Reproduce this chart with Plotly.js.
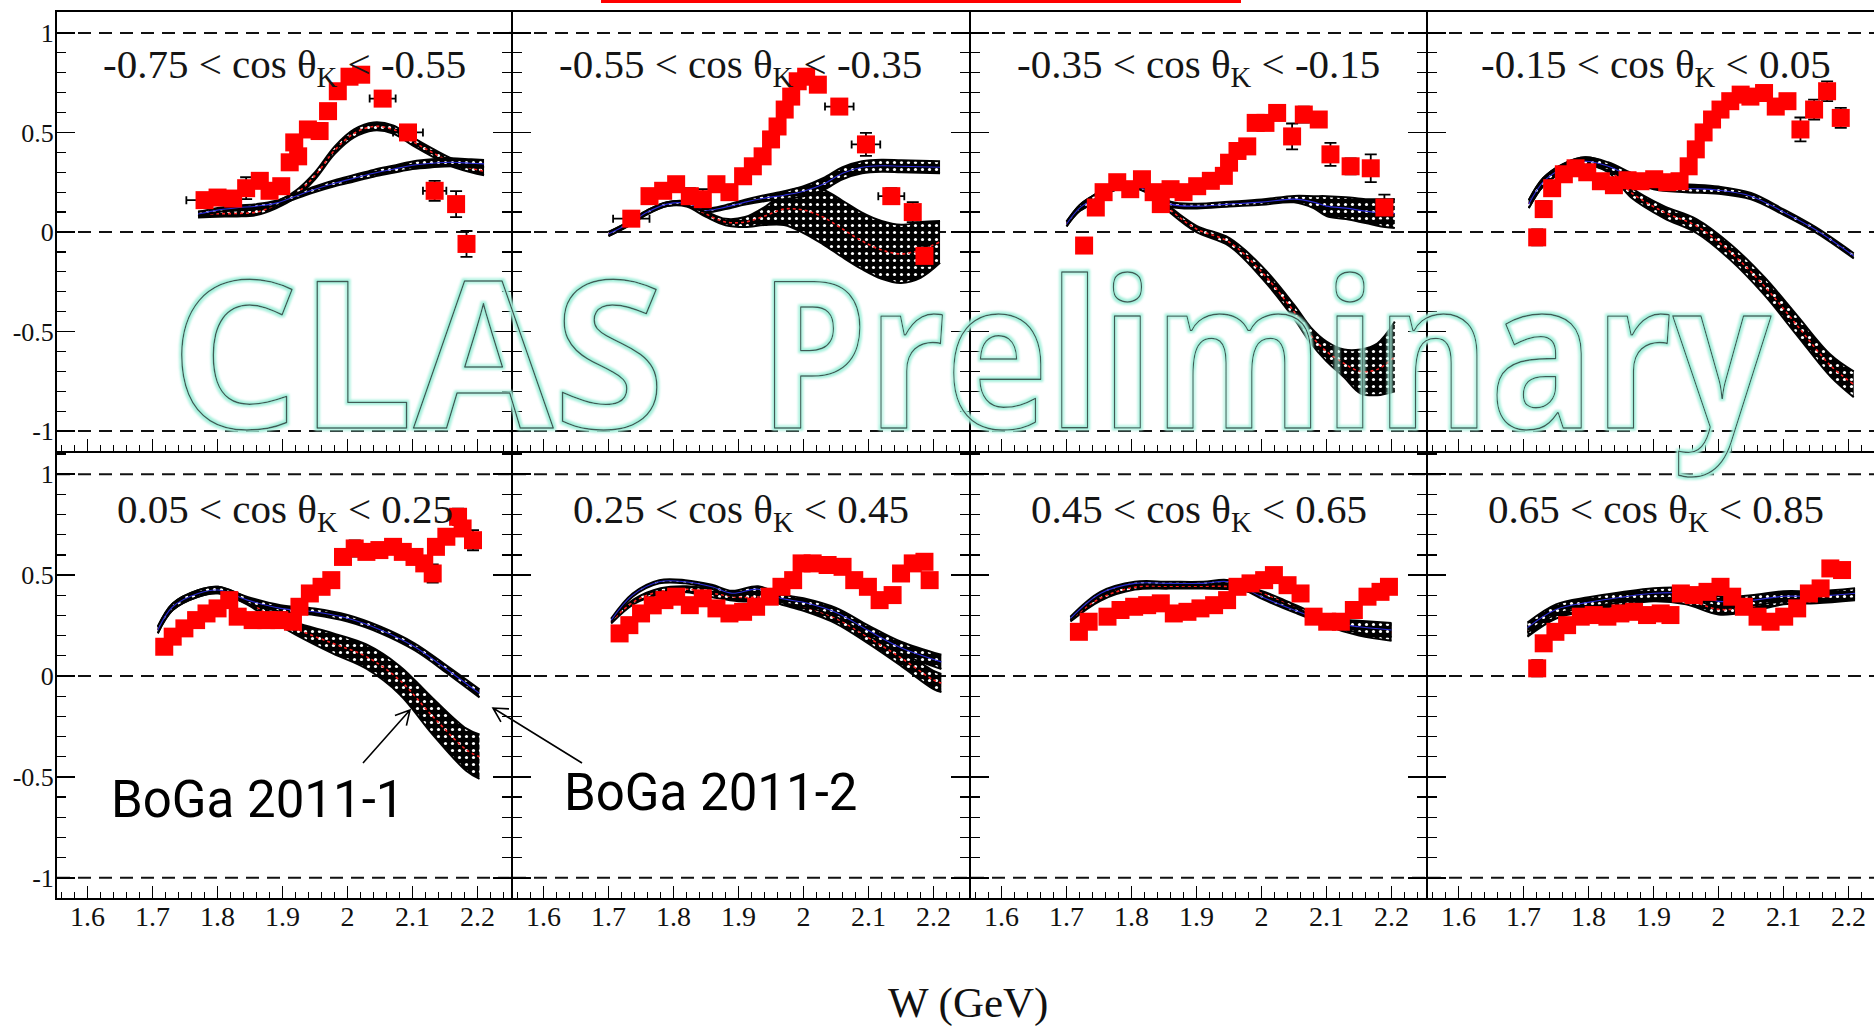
<!DOCTYPE html>
<html><head><meta charset="utf-8">
<script src="https://cdn.plot.ly/plotly-3.0.1.min.js"></script>
<style>
html,body{margin:0;padding:0;overflow:hidden;background:#fff}
#wrap{position:relative;width:1874px;height:1029px}
#plot{position:absolute;left:0;top:0;width:1874px;height:1029px}
#wm{position:absolute;left:0;top:0;pointer-events:none}
</style></head><body>
<div id="wrap"><div id="plot"></div>
<svg id="wm" width="1874" height="1029" xmlns="http://www.w3.org/2000/svg">
 <defs>
  <filter id="glow" filterUnits="userSpaceOnUse" x="0" y="0" width="1874" height="1029">
   <feMorphology in="SourceAlpha" operator="dilate" radius="2" result="d"/>
   <feFlood flood-color="#a6f0dc"/>
   <feComposite in2="d" operator="in" result="g"/>
   <feGaussianBlur in="g" stdDeviation="0.9" result="gb"/>
   <feMerge><feMergeNode in="gb"/><feMergeNode in="SourceGraphic"/></feMerge>
  </filter>
 </defs>
 <g font-family="Open Sans" font-weight="700" font-size="205" fill="none" stroke="#3f5a55" stroke-width="1.4" stroke-linejoin="round" filter="url(#glow)">
  <text id="wm1" x="0" y="0" transform="translate(170,428)">CLAS</text>
  <text id="wm2" x="0" y="0" transform="translate(759,428)">Preliminary</text>
 </g>
</svg>
</div>
<script>
// ---------- tick labels ----------
const xTickVals = [1.6, 1.7, 1.8, 1.9, 2.0, 2.1, 2.2];
const xTickText = ['1.6', '1.7', '1.8', '1.9', '2', '2.1', '2.2'];
const yTickVals = [-1, -0.5, 0, 0.5, 1];
const yTickText = ['-1', '-0.5', '0', '0.5', '1'];
const refLines = [1, 0, -1];
const panelLabels = [
  '-0.75 &lt; cos θ<sub>K</sub> &lt; -0.55',
  '-0.55 &lt; cos θ<sub>K</sub> &lt; -0.35',
  '-0.35 &lt; cos θ<sub>K</sub> &lt; -0.15',
  '-0.15 &lt; cos θ<sub>K</sub> &lt; 0.05',
  '0.05 &lt; cos θ<sub>K</sub> &lt; 0.25',
  '0.25 &lt; cos θ<sub>K</sub> &lt; 0.45',
  '0.45 &lt; cos θ<sub>K</sub> &lt; 0.65',
  '0.65 &lt; cos θ<sub>K</sub> &lt; 0.85'
];

// ---------- data points (W, asymmetry, y error, x error) ----------
const W1 = [1.780, 1.800, 1.824, 1.844, 1.865, 1.880, 1.898, 1.911, 1.918, 1.924, 1.939, 1.957, 1.970, 1.985, 2.003, 2.021, 2.054, 2.093, 2.134, 2.167, 2.183];
const A1 = [0.16, 0.173, 0.168, 0.22, 0.257, 0.207, 0.23, 0.35, 0.45, 0.38, 0.515, 0.507, 0.607, 0.707, 0.78, 0.79, 0.67, 0.50, 0.207, 0.14, -0.06];
const E1 = [0.02, 0.02, 0.02, 0.055, 0.03, 0.03, 0.03, 0.03, 0.03, 0.03, 0.03, 0.04, 0.03, 0.03, 0.03, 0.03, 0.02, 0.025, 0.05, 0.065, 0.065];
const X1 = [0.028, 0, 0, 0, 0, 0, 0, 0, 0, 0, 0, 0, 0, 0, 0, 0, 0.02, 0.023, 0.018, 0, 0];

const W2 = [1.735, 1.763, 1.784, 1.804, 1.825, 1.845, 1.866, 1.886, 1.907, 1.922, 1.937, 1.95, 1.96, 1.971, 1.981, 1.991, 2.004, 2.022, 2.055, 2.096, 2.135, 2.168, 2.186];
const A2 = [0.067, 0.18, 0.207, 0.24, 0.18, 0.165, 0.24, 0.2, 0.28, 0.33, 0.38, 0.465, 0.53, 0.615, 0.68, 0.757, 0.78, 0.74, 0.63, 0.44, 0.18, 0.1, -0.12];
const E2 = [0.03, 0.03, 0.03, 0.03, 0.04, 0.05, 0.03, 0.03, 0.03, 0.03, 0.03, 0.03, 0.03, 0.03, 0.03, 0.03, 0.03, 0.03, 0.03, 0.058, 0.04, 0.05, 0.05];
const X2 = [0.028, 0, 0, 0, 0, 0, 0, 0, 0, 0, 0, 0, 0, 0, 0, 0, 0, 0, 0.022, 0.022, 0.02, 0, 0];

const W3 = [1.727, 1.745, 1.757, 1.778, 1.798, 1.816, 1.834, 1.845, 1.86, 1.88, 1.901, 1.922, 1.942, 1.95, 1.963, 1.978, 1.991, 2.006, 2.024, 2.047, 2.065, 2.088, 2.106, 2.137, 2.168, 2.189];
const A3 = [-0.068, 0.123, 0.2, 0.25, 0.215, 0.265, 0.2, 0.14, 0.215, 0.2, 0.23, 0.257, 0.282, 0.348, 0.407, 0.43, 0.548, 0.548, 0.598, 0.48, 0.59, 0.565, 0.39, 0.33, 0.32, 0.123];
const E3 = [0.03, 0.03, 0.03, 0.03, 0.03, 0.03, 0.03, 0.03, 0.03, 0.03, 0.03, 0.03, 0.03, 0.03, 0.03, 0.03, 0.03, 0.03, 0.03, 0.065, 0.04, 0.03, 0.058, 0.04, 0.07, 0.065];

const W4 = [1.721, 1.731, 1.744, 1.762, 1.780, 1.798, 1.819, 1.839, 1.860, 1.880, 1.901, 1.921, 1.940, 1.954, 1.965, 1.977, 1.990, 2.003, 2.018, 2.034, 2.049, 2.070, 2.088, 2.106, 2.126, 2.147, 2.167, 2.188];
const A4 = [-0.027, 0.115, 0.22, 0.29, 0.32, 0.30, 0.255, 0.235, 0.26, 0.255, 0.265, 0.25, 0.255, 0.33, 0.415, 0.50, 0.565, 0.615, 0.657, 0.69, 0.68, 0.698, 0.63, 0.657, 0.515, 0.615, 0.707, 0.573];
const E4 = [0.04, 0.04, 0.03, 0.03, 0.03, 0.03, 0.03, 0.03, 0.03, 0.03, 0.03, 0.03, 0.03, 0.03, 0.03, 0.03, 0.03, 0.03, 0.03, 0.03, 0.03, 0.03, 0.03, 0.03, 0.06, 0.05, 0.05, 0.05];

const W5 = [1.718, 1.731, 1.749, 1.767, 1.783, 1.80, 1.818, 1.831, 1.854, 1.875, 1.895, 1.916, 1.926, 1.942, 1.96, 1.975, 1.993, 2.011, 2.029, 2.049, 2.07, 2.085, 2.103, 2.118, 2.131, 2.136, 2.152, 2.17, 2.177, 2.193];
const A5 = [0.145, 0.195, 0.236, 0.277, 0.31, 0.335, 0.376, 0.294, 0.277, 0.277, 0.277, 0.269, 0.343, 0.409, 0.442, 0.475, 0.59, 0.632, 0.615, 0.624, 0.64, 0.615, 0.59, 0.558, 0.508, 0.64, 0.69, 0.789, 0.731, 0.673];
const E5 = [0.03, 0.03, 0.03, 0.03, 0.03, 0.03, 0.03, 0.03, 0.03, 0.03, 0.03, 0.03, 0.03, 0.03, 0.03, 0.03, 0.03, 0.04, 0.03, 0.03, 0.03, 0.03, 0.03, 0.03, 0.045, 0.03, 0.03, 0.04, 0.03, 0.05];

const W6 = [1.717, 1.732, 1.750, 1.768, 1.786, 1.804, 1.825, 1.845, 1.866, 1.886, 1.907, 1.927, 1.948, 1.966, 1.984, 1.997, 2.014, 2.037, 2.06, 2.078, 2.099, 2.117, 2.137, 2.15, 2.168, 2.186, 2.194];
const A6 = [0.211, 0.252, 0.31, 0.35, 0.376, 0.393, 0.351, 0.385, 0.335, 0.31, 0.318, 0.343, 0.393, 0.442, 0.475, 0.558, 0.558, 0.55, 0.541, 0.475, 0.442, 0.376, 0.401, 0.508, 0.558, 0.566, 0.475];
const E6 = [0.03, 0.03, 0.03, 0.03, 0.03, 0.03, 0.03, 0.03, 0.03, 0.03, 0.03, 0.03, 0.03, 0.03, 0.03, 0.03, 0.03, 0.03, 0.03, 0.03, 0.03, 0.03, 0.03, 0.03, 0.03, 0.03, 0.03];

const W7 = [1.719, 1.734, 1.763, 1.783, 1.804, 1.824, 1.845, 1.865, 1.886, 1.906, 1.927, 1.947, 1.963, 1.983, 2.004, 2.019, 2.04, 2.06, 2.08, 2.101, 2.122, 2.142, 2.163, 2.183, 2.196];
const A7 = [0.219, 0.269, 0.294, 0.327, 0.343, 0.351, 0.36, 0.31, 0.318, 0.335, 0.351, 0.376, 0.442, 0.459, 0.475, 0.5, 0.45, 0.409, 0.294, 0.269, 0.269, 0.327, 0.393, 0.417, 0.442];
const E7 = [0.03, 0.03, 0.03, 0.03, 0.03, 0.03, 0.03, 0.03, 0.03, 0.03, 0.03, 0.03, 0.03, 0.03, 0.03, 0.03, 0.03, 0.03, 0.03, 0.03, 0.03, 0.03, 0.03, 0.03, 0.03];

const W8 = [1.721, 1.731, 1.749, 1.767, 1.788, 1.808, 1.829, 1.849, 1.87, 1.89, 1.911, 1.926, 1.942, 1.962, 1.983, 2.003, 2.021, 2.039, 2.06, 2.08, 2.101, 2.121, 2.139, 2.157, 2.172, 2.19];
const A8 = [0.038, 0.162, 0.219, 0.252, 0.294, 0.302, 0.294, 0.31, 0.318, 0.302, 0.31, 0.302, 0.409, 0.401, 0.417, 0.442, 0.393, 0.343, 0.294, 0.269, 0.294, 0.335, 0.409, 0.434, 0.533, 0.525];
const E8 = [0.04, 0.03, 0.03, 0.03, 0.03, 0.03, 0.03, 0.03, 0.03, 0.03, 0.03, 0.03, 0.03, 0.03, 0.03, 0.03, 0.03, 0.03, 0.03, 0.03, 0.03, 0.03, 0.03, 0.03, 0.03, 0.03];

// ---------- model bands: BoGa 2011-1 (red centre) and BoGa 2011-2 (blue centre) ----------
// grid W, centre value, half width
const gA1 = [1.77, 1.80, 1.83, 1.86, 1.89, 1.92, 1.95, 1.98, 2.01, 2.04, 2.07, 2.10, 2.13, 2.16, 2.19, 2.21];
const cA1 = [0.088, 0.092, 0.093, 0.10, 0.135, 0.19, 0.283, 0.41, 0.495, 0.53, 0.515, 0.455, 0.40, 0.35, 0.32, 0.305];
const hA1 = [0.015, 0.015, 0.015, 0.015, 0.016, 0.017, 0.018, 0.019, 0.02, 0.02, 0.02, 0.02, 0.02, 0.02, 0.02, 0.02];
const gB1 = [1.77, 1.80, 1.83, 1.86, 1.89, 1.92, 1.95, 1.98, 2.01, 2.04, 2.07, 2.10, 2.13, 2.16, 2.19, 2.21];
const cB1 = [0.09, 0.11, 0.122, 0.13, 0.145, 0.18, 0.215, 0.245, 0.27, 0.295, 0.315, 0.335, 0.345, 0.35, 0.345, 0.342];
const hB1 = [0.01, 0.01, 0.01, 0.01, 0.012, 0.013, 0.014, 0.015, 0.016, 0.017, 0.018, 0.019, 0.02, 0.02, 0.02, 0.02];

const gA2 = [1.70, 1.73, 1.76, 1.79, 1.82, 1.85, 1.88, 1.91, 1.94, 1.97, 2.00, 2.03, 2.06, 2.09, 2.12, 2.15, 2.18, 2.21];
const cA2 = [-0.01, 0.04, 0.10, 0.14, 0.14, 0.09, 0.05, 0.05, 0.08, 0.115, 0.11, 0.075, 0.015, -0.045, -0.09, -0.11, -0.09, -0.05];
const hA2 = [0.01, 0.01, 0.01, 0.01, 0.012, 0.014, 0.016, 0.025, 0.045, 0.08, 0.115, 0.137, 0.142, 0.142, 0.145, 0.146, 0.14, 0.105];
const gB2 = [1.70, 1.73, 1.76, 1.79, 1.82, 1.85, 1.88, 1.91, 1.94, 1.97, 2.00, 2.03, 2.06, 2.09, 2.12, 2.15, 2.18, 2.21];
const cB2 = [-0.01, 0.04, 0.10, 0.14, 0.145, 0.11, 0.125, 0.15, 0.17, 0.185, 0.205, 0.24, 0.295, 0.325, 0.333, 0.33, 0.328, 0.325];
const hB2 = [0.01, 0.01, 0.01, 0.01, 0.01, 0.01, 0.01, 0.012, 0.015, 0.02, 0.025, 0.03, 0.03, 0.03, 0.03, 0.03, 0.03, 0.03];

const gA3 = [1.70, 1.72, 1.745, 1.77, 1.80, 1.83, 1.86, 1.90, 1.95, 2.00, 2.05, 2.076, 2.10, 2.127, 2.152, 2.178, 2.205];
const cA3 = [0.04, 0.12, 0.17, 0.22, 0.235, 0.2, 0.11, 0.015, -0.05, -0.2, -0.4, -0.52, -0.6, -0.66, -0.70, -0.69, -0.625];
const hA3 = [0.012, 0.015, 0.02, 0.015, 0.012, 0.012, 0.014, 0.016, 0.02, 0.03, 0.035, 0.04, 0.05, 0.07, 0.11, 0.13, 0.175];
const gB3 = [1.70, 1.72, 1.745, 1.77, 1.80, 1.83, 1.86, 1.90, 1.95, 2.00, 2.05, 2.08, 2.10, 2.13, 2.16, 2.19, 2.205];
const cB3 = [0.04, 0.12, 0.17, 0.22, 0.235, 0.2, 0.14, 0.13, 0.14, 0.15, 0.165, 0.15, 0.13, 0.12, 0.105, 0.095, 0.093];
const hB3 = [0.012, 0.015, 0.02, 0.015, 0.012, 0.012, 0.012, 0.012, 0.012, 0.013, 0.016, 0.03, 0.05, 0.055, 0.06, 0.07, 0.073];

const gA4 = [1.708, 1.73, 1.76, 1.795, 1.83, 1.865, 1.916, 1.966, 2.018, 2.07, 2.121, 2.172, 2.208];
const cA4 = [0.14, 0.25, 0.32, 0.355, 0.32, 0.2, 0.1, 0.03, -0.1, -0.27, -0.47, -0.67, -0.765];
const hA4 = [0.02, 0.02, 0.02, 0.02, 0.02, 0.025, 0.03, 0.035, 0.04, 0.045, 0.05, 0.055, 0.065];
const gB4 = [1.708, 1.73, 1.76, 1.795, 1.83, 1.87, 1.90, 1.95, 2.00, 2.05, 2.10, 2.15, 2.208];
const cB4 = [0.14, 0.25, 0.32, 0.355, 0.33, 0.27, 0.235, 0.22, 0.21, 0.18, 0.10, 0.01, -0.12];
const hB4 = [0.02, 0.02, 0.02, 0.02, 0.02, 0.02, 0.02, 0.02, 0.018, 0.016, 0.014, 0.013, 0.013];

const gA5 = [1.708, 1.731, 1.77, 1.801, 1.846, 1.88, 1.92, 1.977, 2.029, 2.08, 2.131, 2.183, 2.203];
const cA5 = [0.228, 0.343, 0.409, 0.426, 0.37, 0.30, 0.235, 0.162, 0.096, -0.02, -0.2, -0.366, -0.40];
const hA5 = [0.016, 0.016, 0.016, 0.016, 0.016, 0.02, 0.03, 0.05, 0.06, 0.07, 0.09, 0.105, 0.11];
const gB5 = [1.708, 1.731, 1.77, 1.801, 1.846, 1.897, 1.949, 2.0, 2.051, 2.103, 2.154, 2.203];
const cB5 = [0.228, 0.343, 0.409, 0.426, 0.376, 0.335, 0.318, 0.286, 0.228, 0.145, 0.03, -0.086];
const hB5 = [0.016, 0.016, 0.016, 0.016, 0.016, 0.016, 0.016, 0.016, 0.016, 0.017, 0.018, 0.02];

const gA6 = [1.704, 1.74, 1.78, 1.82, 1.86, 1.90, 1.95, 1.97, 2.0, 2.05, 2.10, 2.15, 2.2, 2.212];
const cA6 = [0.27, 0.37, 0.42, 0.43, 0.41, 0.39, 0.39, 0.37, 0.345, 0.285, 0.19, 0.09, -0.02, -0.035];
const hA6 = [0.01, 0.012, 0.015, 0.015, 0.02, 0.02, 0.02, 0.02, 0.022, 0.025, 0.03, 0.04, 0.045, 0.045];
const gB6 = [1.704, 1.737, 1.778, 1.818, 1.859, 1.89, 1.93, 1.965, 2.0, 2.05, 2.10, 2.15, 2.212];
const cB6 = [0.277, 0.401, 0.467, 0.467, 0.442, 0.41, 0.43, 0.385, 0.365, 0.315, 0.225, 0.14, 0.07];
const hB6 = [0.008, 0.008, 0.008, 0.008, 0.01, 0.012, 0.015, 0.02, 0.02, 0.022, 0.025, 0.03, 0.035];

const gA7 = [1.706, 1.752, 1.805, 1.857, 1.91, 1.96, 2.0, 2.05, 2.10, 2.15, 2.20];
const cA7 = [0.28, 0.385, 0.44, 0.445, 0.445, 0.44, 0.41, 0.34, 0.27, 0.235, 0.215];
const hA7 = [0.01, 0.012, 0.012, 0.012, 0.012, 0.012, 0.012, 0.015, 0.02, 0.035, 0.04];
const gB7 = [1.706, 1.752, 1.805, 1.857, 1.91, 1.95, 2.0, 2.05, 2.10, 2.15, 2.20];
const cB7 = [0.286, 0.409, 0.459, 0.459, 0.459, 0.467, 0.393, 0.327, 0.27, 0.244, 0.228];
const hB7 = [0.008, 0.008, 0.008, 0.008, 0.008, 0.008, 0.01, 0.012, 0.015, 0.03, 0.035];

const gA8 = [1.706, 1.75, 1.80, 1.85, 1.90, 1.95, 2.00, 2.05, 2.10, 2.15, 2.21];
const cA8 = [0.22, 0.31, 0.35, 0.375, 0.395, 0.38, 0.33, 0.345, 0.38, 0.385, 0.40];
const hA8 = [0.025, 0.025, 0.025, 0.025, 0.025, 0.025, 0.025, 0.025, 0.025, 0.025, 0.025];
const gB8 = [1.706, 1.75, 1.80, 1.85, 1.90, 1.95, 2.00, 2.05, 2.10, 2.15, 2.21];
const cB8 = [0.24, 0.33, 0.365, 0.39, 0.41, 0.41, 0.37, 0.375, 0.395, 0.395, 0.41];
const hB8 = [0.025, 0.025, 0.025, 0.025, 0.025, 0.025, 0.025, 0.025, 0.025, 0.025, 0.025];

// ---------- watermark fit (fit each word to its box in the reference) ----------
[['wm1', 170, 495], ['wm2', 759, 1012]].forEach(([id, x, w]) => {
  const el = document.getElementById(id);
  const nat = el.getComputedTextLength() || w;
  el.setAttribute('transform', 'translate(' + x + ',428) scale(' + (w / nat).toFixed(4) + ',1)');
});

// ---------- assemble ----------
const points = [[W1,A1,E1,X1],[W2,A2,E2,X2],[W3,A3,E3,null],[W4,A4,E4,null],
                [W5,A5,E5,null],[W6,A6,E6,null],[W7,A7,E7,null],[W8,A8,E8,null]];
const bandsA = [[gA1,cA1,hA1],[gA2,cA2,hA2],[gA3,cA3,hA3],[gA4,cA4,hA4],[gA5,cA5,hA5],[gA6,cA6,hA6],[gA7,cA7,hA7],[gA8,cA8,hA8]];
const bandsB = [[gB1,cB1,hB1],[gB2,cB2,hB2],[gB3,cB3,hB3],[gB4,cB4,hB4],[gB5,cB5,hB5],[gB6,cB6,hB6],[gB7,cB7,hB7],[gB8,cB8,hB8]];

const FW = 1874, FH = 1029;
const colLeft = [57, 513, 971, 1428];
const colRight = [511, 969, 1426, 1874];
const rowTop = [12, 453], rowBot = [451, 898];
const pxPerGeV = 650, xStart = 1.553;
const yRange = [-1.1, 1.105];
const serif = 'Liberation Serif, Times New Roman, serif';

function ax(i){ return i === 0 ? '' : String(i + 1); }

const traces = [];
function addBand(i, b, centerLine){
  const [g, c, h] = b;
  const lo = c.map((v, k) => v - h[k]);
  const hi = c.map((v, k) => v + h[k]);
  const common = {x: g, xaxis: 'x' + ax(i), yaxis: 'y' + ax(i), mode: 'lines', hoverinfo: 'skip', showlegend: false};
  traces.push(Object.assign({}, common, {y: lo, line: {color: '#000', width: 2, shape: 'spline'}}));
  traces.push(Object.assign({}, common, {y: hi, line: {color: '#000', width: 2, shape: 'spline'},
    fill: 'tonexty', fillcolor: '#000',
    fillpattern: {shape: '.', bgcolor: '#000', fgcolor: '#fff', size: 7, solidity: 0.16}}));
  traces.push(Object.assign({}, common, {y: c, line: Object.assign({shape: 'spline'}, centerLine)}));
}
for (let i = 0; i < 8; i++) {
  addBand(i, bandsA[i], {color: '#ff2020', width: 1.6, dash: 'dot'});
  addBand(i, bandsB[i], {color: '#2b2bd6', width: 1.1});
  const [w, a, e, xe] = points[i];
  const t = {x: w, y: a, xaxis: 'x' + ax(i), yaxis: 'y' + ax(i), mode: 'markers', type: 'scatter', showlegend: false,
    marker: {symbol: 'square', size: 18, color: '#ff0000', line: {width: 0}},
    error_y: {type: 'data', array: e, visible: true, color: '#000', thickness: 1.8, width: 6}};
  if (xe) t.error_x = {type: 'data', array: xe, visible: true, color: '#000', thickness: 1.8, width: 4};
  traces.push(t);
}

const layout = {width: FW, height: FH, margin: {l: 0, r: 0, t: 0, b: 0}, paper_bgcolor: '#fff', plot_bgcolor: 'rgba(0,0,0,0)',
  showlegend: false, shapes: [], annotations: []};

for (let i = 0; i < 8; i++) {
  const r = Math.floor(i / 4), c = i % 4;
  const xr = [xStart, xStart + (colRight[c] - colLeft[c]) / pxPerGeV];
  layout['xaxis' + ax(i)] = {
    domain: [colLeft[c] / FW, colRight[c] / FW], range: xr, anchor: 'y' + ax(i),
    showline: true, linecolor: '#000', linewidth: 2, mirror: true,
    ticks: 'inside', ticklen: 12, tickwidth: 1.6, tickcolor: '#000',
    tickmode: 'array', tickvals: xTickVals, ticktext: xTickText,
    showticklabels: r === 1, ticklabelstandoff: -8,
    tickfont: {family: serif, size: 28, color: '#111'},
    minor: {ticks: 'inside', ticklen: 6, tickwidth: 1.3, tickcolor: '#000', dtick: 0.02, tick0: 1.6, showgrid: false},
    showgrid: false, zeroline: false
  };
  layout['yaxis' + ax(i)] = {
    domain: [1 - rowBot[r] / FH, 1 - rowTop[r] / FH], range: yRange, anchor: 'x' + ax(i),
    showline: true, linecolor: '#000', linewidth: 2, mirror: c === 3 ? false : 'ticks',
    ticks: 'inside', ticklen: 18, tickwidth: 1.6, tickcolor: '#000',
    tickmode: 'array', tickvals: yTickVals, ticktext: yTickText,
    showticklabels: c === 0, ticklabelstandoff: -4,
    tickfont: {family: serif, size: 26, color: '#111'},
    minor: {ticks: 'inside', ticklen: 9, tickwidth: 1.3, tickcolor: '#000', dtick: 0.1, tick0: 0, showgrid: false},
    showgrid: false, zeroline: false
  };
  refLines.forEach(v => layout.shapes.push({type: 'line', layer: 'below', xref: 'x' + ax(i) + ' domain', x0: 0, x1: 1,
    yref: 'y' + ax(i), y0: v, y1: v, line: {color: '#111', width: 2, dash: '13px,8px'}}));
  layout.annotations.push({xref: 'x' + ax(i), yref: 'y' + ax(i), x: xStart + 0.35, y: r === 0 ? 0.83 : 0.815,
    text: panelLabels[i], showarrow: false, xanchor: 'center', yanchor: 'middle',
    font: {family: serif, size: 41, color: '#151515'}});
}

// red bar at top
layout.shapes.push({type: 'rect', xref: 'paper', yref: 'paper', x0: 601 / FW, x1: 1241 / FW, y0: 1 - 3 / FH, y1: 1,
  fillcolor: '#ff0000', line: {width: 0}});

// arrows (tail -> head, in pixels) drawn as paths
function arrowPath(tx, ty, hx, hy){
  const dx = hx - tx, dy = hy - ty, L = Math.hypot(dx, dy), ux = dx / L, uy = dy / L;
  const len = 16, ang = 0.5;
  const p = (x, y) => (x / FW).toFixed(5) + ',' + (1 - y / FH).toFixed(5);
  const b1x = hx - len * (ux * Math.cos(ang) - uy * Math.sin(ang)), b1y = hy - len * (uy * Math.cos(ang) + ux * Math.sin(ang));
  const b2x = hx - len * (ux * Math.cos(-ang) - uy * Math.sin(-ang)), b2y = hy - len * (uy * Math.cos(-ang) + ux * Math.sin(-ang));
  return 'M' + p(tx, ty) + 'L' + p(hx, hy) + 'M' + p(b1x, b1y) + 'L' + p(hx, hy) + 'L' + p(b2x, b2y);
}
layout.shapes.push({type: 'path', xref: 'paper', yref: 'paper', path: arrowPath(363, 763, 410, 710), line: {color: '#000', width: 1.6}});
layout.shapes.push({type: 'path', xref: 'paper', yref: 'paper', path: arrowPath(582, 763, 493, 708), line: {color: '#000', width: 1.6}});

// model labels
const sans = 'Roboto, Noto Sans, sans-serif';
layout.annotations.push({xref: 'paper', yref: 'paper', x: 257 / FW, y: 1 - 799 / FH, text: 'BoGa 2011-1', showarrow: false,
  xanchor: 'center', yanchor: 'middle', font: {family: sans, size: 51, color: '#000'}});
layout.annotations.push({xref: 'paper', yref: 'paper', x: 710 / FW, y: 1 - 792 / FH, text: 'BoGa 2011-2', showarrow: false,
  xanchor: 'center', yanchor: 'middle', font: {family: sans, size: 51, color: '#000'}});

// axis title
layout.annotations.push({xref: 'paper', yref: 'paper', x: 968 / FW, y: 1 - 1003 / FH, text: 'W (GeV)', showarrow: false,
  xanchor: 'center', yanchor: 'middle', font: {family: serif, size: 43, color: '#111'}});

Plotly.newPlot('plot', traces, layout, {staticPlot: true, displayModeBar: false});
</script>
</body></html>
